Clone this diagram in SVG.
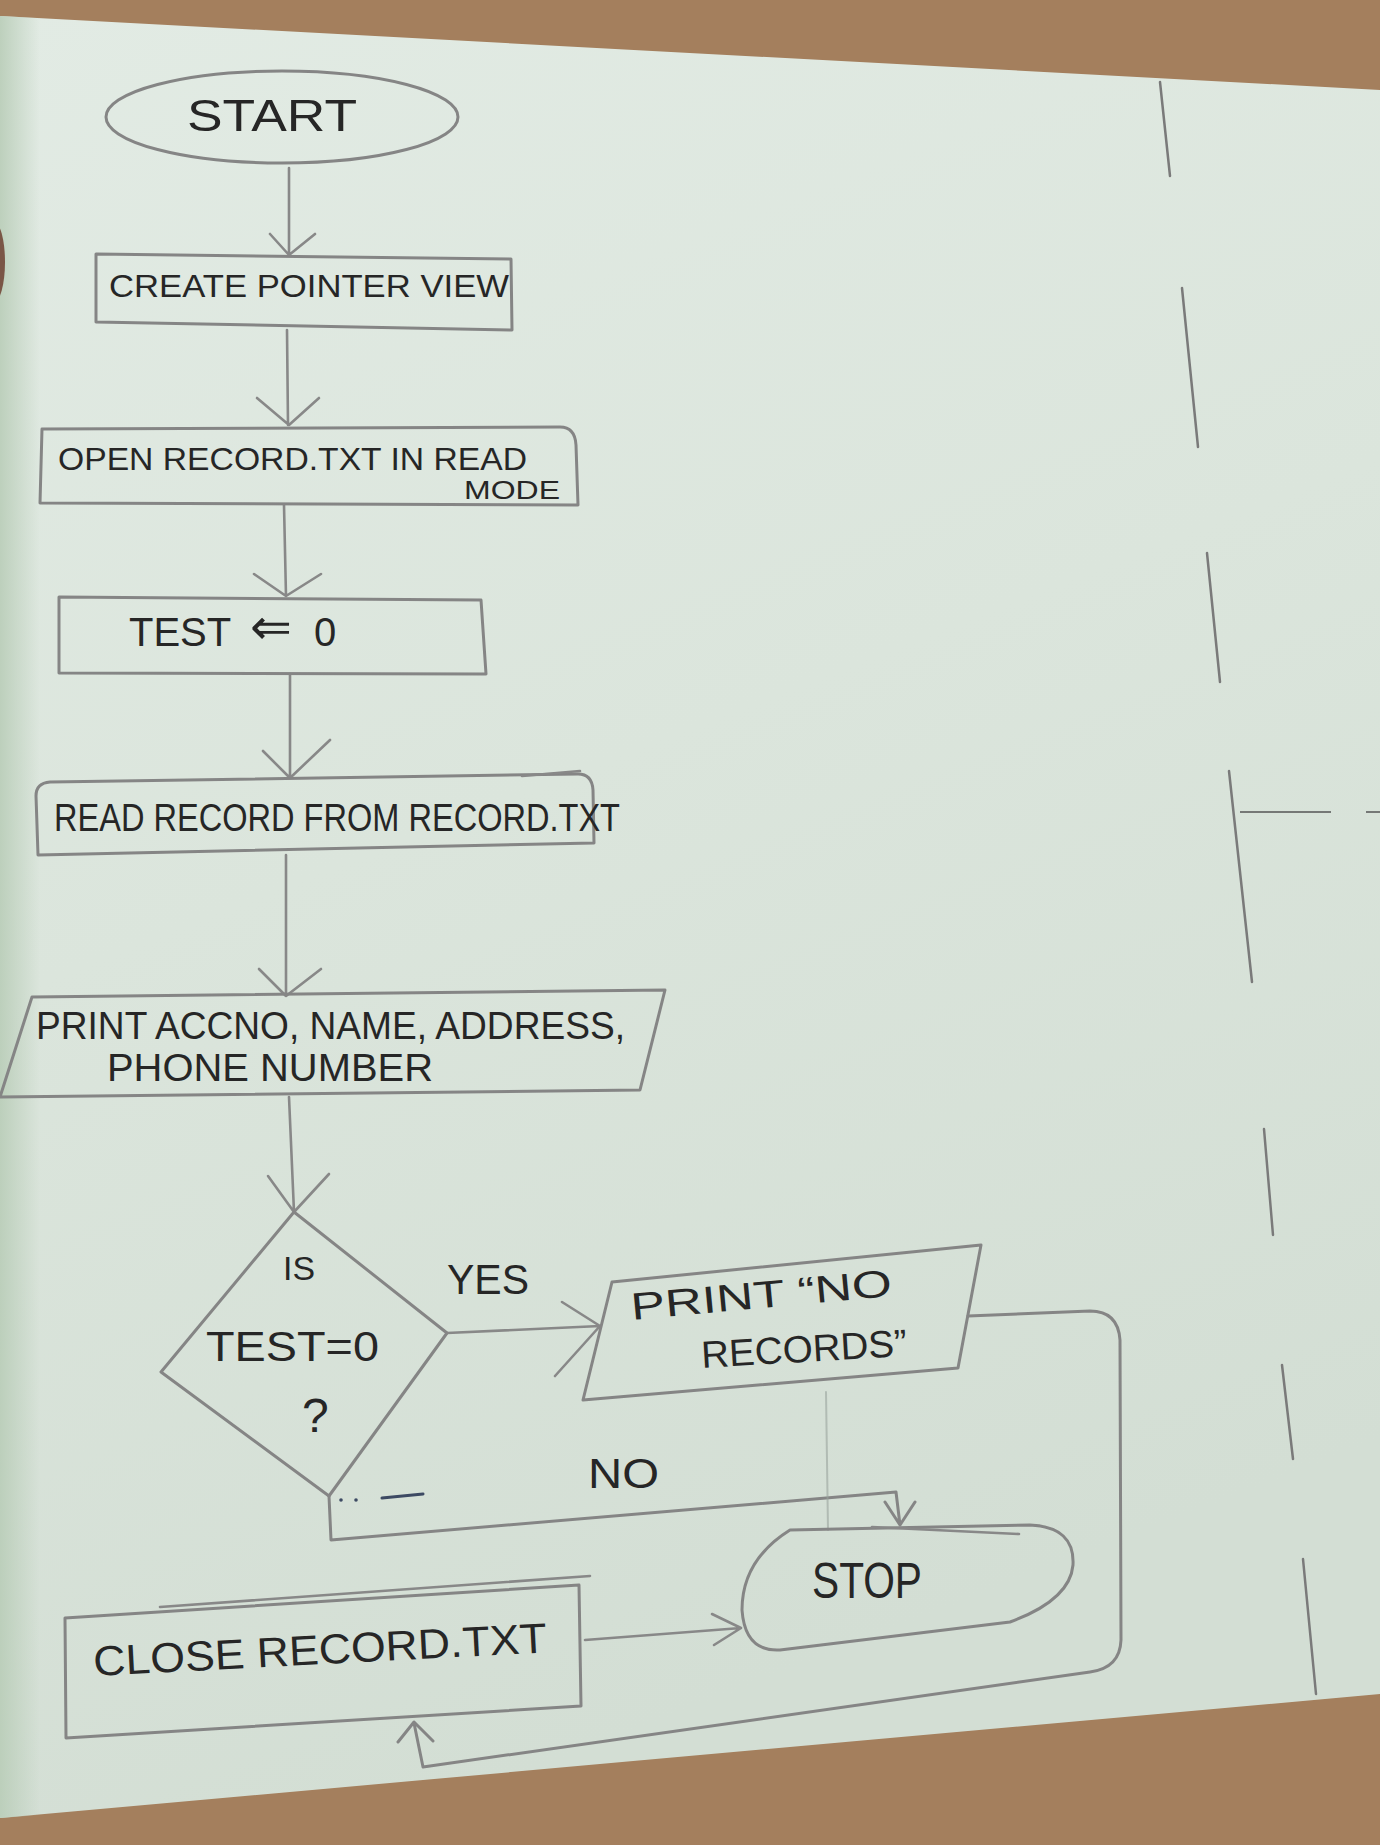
<svg xmlns="http://www.w3.org/2000/svg" width="1380" height="1845" viewBox="0 0 1380 1845">
<defs>
<linearGradient id="paper" x1="0" y1="0" x2="0.3" y2="1">
<stop offset="0" stop-color="#e2ebe4"/>
<stop offset="0.5" stop-color="#dbe5dc"/>
<stop offset="1" stop-color="#d3ded4"/>
</linearGradient>
<linearGradient id="leftshade" x1="0" y1="0" x2="1" y2="0">
<stop offset="0" stop-color="#b9cdb8" stop-opacity="0.9"/>
<stop offset="1" stop-color="#b9cdb8" stop-opacity="0"/>
</linearGradient>
<style>
.ln{fill:none;stroke:#858585;stroke-width:3;stroke-linecap:round;stroke-linejoin:round}
.sh{fill:none;stroke:#888;stroke-width:2.6;stroke-linecap:round;stroke-linejoin:round}
.faint{fill:none;stroke:#9aa49c;stroke-width:2;stroke-linecap:round;opacity:0.6}
.dash{fill:none;stroke:#7a7a7a;stroke-width:2.5;stroke-linecap:round}
.t{font-family:"Liberation Sans",Arial,sans-serif;fill:#262626;font-weight:normal}
</style>
</defs>
<rect x="0" y="0" width="1380" height="1845" fill="#a47f5d"/>
<polygon points="0,16 1380,90 1380,1694 0,1818" fill="url(#paper)"/>
<polygon points="0,16 40,18 40,1815 0,1818" fill="url(#leftshade)"/>
<ellipse cx="-6" cy="262" rx="11" ry="40" fill="#7a5646"/>

<g id="margin-lines">
<line class="dash" x1="1160" y1="82" x2="1170" y2="176"/>
<line class="dash" x1="1182" y1="288" x2="1198" y2="447"/>
<line class="dash" x1="1207" y1="553" x2="1220" y2="682"/>
<line class="dash" x1="1229" y1="771" x2="1252" y2="982"/>
<line class="dash" x1="1264" y1="1129" x2="1273" y2="1235"/>
<line class="dash" x1="1282" y1="1365" x2="1293" y2="1459"/>
<line class="dash" x1="1303" y1="1559" x2="1316" y2="1694"/>
<line x1="1240" y1="812" x2="1331" y2="812" stroke="#555" stroke-width="1.5"/>
<line x1="1366" y1="812" x2="1380" y2="812" stroke="#555" stroke-width="1.5"/>
</g>

<g id="connectors">
<path class="sh" d="M289,168 L289,255 M270,234 L289,255 L315,234"/>
<path class="sh" d="M287,330 L288,425 M257,398 L289,425 L319,398"/>
<path class="sh" d="M284,505 L286,596 M254,574 L286,596 L321,574"/>
<path class="sh" d="M290,674 L290,778 M263,751 L290,778 L330,740"/>
<path class="sh" d="M286,855 L286,996 M259,969 L286,996 L321,969"/>
<path class="sh" d="M289,1097 L294,1212 M268,1176 L294,1212 L329,1174"/>
<path class="sh" d="M447,1333 L600,1326 M562,1302 L600,1326 L555,1376"/>
<path class="ln" d="M329,1496 L331,1540 L896,1492 L900,1525 M885,1502 L900,1525 L915,1502"/>
<path class="ln" d="M968,1316 L1090,1311 Q1118,1311 1120,1340 L1121,1640 Q1120,1668 1090,1672 L423,1767 L414,1723 M398,1742 L414,1722 L433,1741"/>
<path class="sh" d="M585,1640 L741,1628 M712,1614 L741,1628 L714,1645"/>
<path class="faint" d="M826,1392 L828,1530"/>
<path d="M382,1498 L423,1494" stroke="#3d4a63" stroke-width="3" stroke-linecap="round"/>
<circle cx="341" cy="1500" r="1.8" fill="#3d4a63"/>
<circle cx="356" cy="1500" r="1.8" fill="#3d4a63"/>
</g>

<g id="start">
<ellipse class="ln" cx="282" cy="117" rx="176" ry="46"/>
<text class="t" x="187" y="131" font-size="44" textLength="170" lengthAdjust="spacingAndGlyphs">START</text>
</g>

<g id="create-pointer">
<polygon class="ln" points="96,254 511,259 512,330 96,322"/>
<text class="t" x="109" y="297" font-size="32" textLength="400" lengthAdjust="spacingAndGlyphs">CREATE  POINTER VIEW</text>
</g>

<g id="open-file">
<path class="ln" d="M42,429 L560,427 Q575,427 576,445 L578,505 L40,503 Z"/>
<text class="t" x="58" y="470" font-size="31" textLength="469" lengthAdjust="spacingAndGlyphs">OPEN  RECORD.TXT  IN READ</text>
<text class="t" x="464" y="499" font-size="26" textLength="96" lengthAdjust="spacingAndGlyphs">MODE</text>
</g>

<g id="test-init">
<polygon class="ln" points="59,597 481,600 486,674 59,673"/>
<text class="t" x="129" y="646" font-size="40">TEST <tspan x="250" font-size="50" dy="-2">⇐</tspan><tspan x="303" dy="2"> 0</tspan></text>
</g>

<g id="read-record">
<path class="ln" d="M38,855 L36,796 Q36,783 50,782 L578,774 Q592,774 593,790 L594,843 Z"/>
<path class="sh" d="M522,776 L580,771"/>
<text class="t" x="54" y="831" font-size="38" textLength="566" lengthAdjust="spacingAndGlyphs">READ  RECORD  FROM RECORD.TXT</text>
</g>

<g id="print-record">
<polygon class="ln" points="32,997 665,990 640,1090 0,1097"/>
<text class="t" x="36" y="1039" font-size="38" textLength="589" lengthAdjust="spacingAndGlyphs">PRINT ACCNO, NAME, ADDRESS,</text>
<text class="t" x="107" y="1081" font-size="38" textLength="326" lengthAdjust="spacingAndGlyphs">PHONE  NUMBER</text>
</g>

<g id="decision">
<polygon class="ln" points="294,1212 447,1333 329,1496 161,1372"/>
<text class="t" x="283" y="1280" font-size="34" textLength="32" lengthAdjust="spacingAndGlyphs">IS</text>
<text class="t" x="206" y="1361" font-size="42" textLength="173" lengthAdjust="spacingAndGlyphs">TEST=0</text>
<text class="t" x="302" y="1432" font-size="48">?</text>
<text class="t" x="447" y="1294" font-size="42" textLength="82" lengthAdjust="spacingAndGlyphs">YES</text>
<text class="t" x="588" y="1488" font-size="42" textLength="71" lengthAdjust="spacingAndGlyphs">NO</text>
</g>

<g id="print-no-records">
<polygon class="ln" points="612,1282 981,1245 958,1368 583,1400"/>
<text class="t" x="632" y="1320" font-size="38" textLength="262" lengthAdjust="spacingAndGlyphs" transform="rotate(-5.3 632 1320)">PRINT “NO</text>
<text class="t" x="702" y="1368" font-size="38" textLength="206" lengthAdjust="spacingAndGlyphs" transform="rotate(-3.4 702 1368)">RECORDS”</text>
</g>

<g id="stop">
<path class="ln" d="M790,1530 L1030,1525 Q1075,1527 1073,1565 Q1070,1600 1010,1622 L780,1650 Q745,1652 742,1610 Q742,1560 790,1530 Z"/>
<path class="sh" d="M872,1527 L1019,1534"/>
<text class="t" x="812" y="1598" font-size="50" textLength="110" lengthAdjust="spacingAndGlyphs">STOP</text>
</g>

<g id="close-file">
<polygon class="ln" points="65,1618 579,1585 581,1706 66,1738"/>
<path class="sh" d="M160,1607 L590,1576"/>
<text class="t" x="94" y="1676" font-size="42" textLength="454" lengthAdjust="spacingAndGlyphs" transform="rotate(-3 94 1676)">CLOSE   RECORD.TXT</text>
</g>
</svg>
